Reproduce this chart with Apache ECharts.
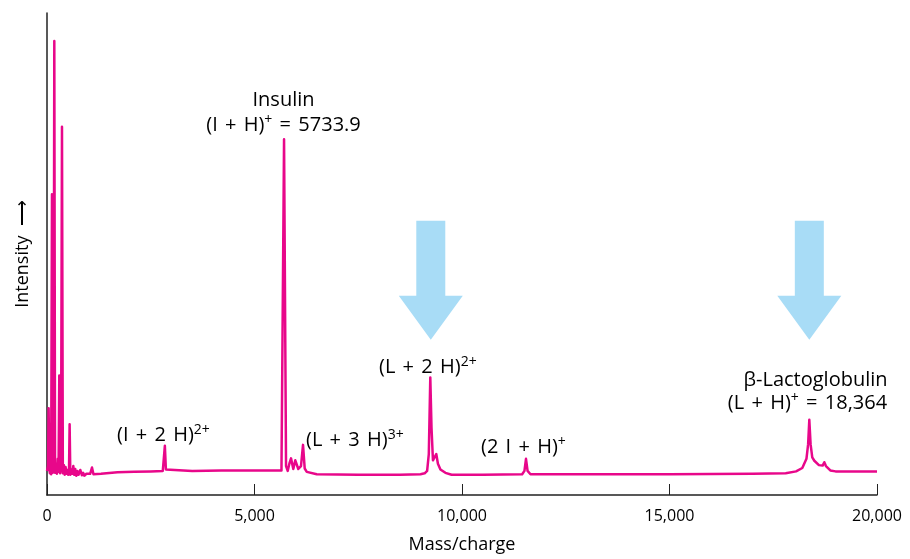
<!DOCTYPE html>
<html>
<head>
<meta charset="utf-8">
<script src="https://cdn.jsdelivr.net/npm/echarts@6/dist/echarts.min.js"></script>
<style>
html,body{margin:0;padding:0;background:#fff;}
#chart{width:910px;height:559px;}
</style>
</head>
<body>
<div id="chart"></div>
<script>
// ---- data ----
const xTicks = [0, 5000, 10000, 15000, 20000];
// mass/charge values of the trace
const massValues = [
  0, 25, 39, 55, 70, 85, 100, 120, 140, 158, 176, 194, 215, 240, 260, 278, 296, 316, 338, 361,
  382, 405, 425, 448, 468, 490, 510, 530, 545, 562, 590, 612, 634, 655, 680, 706, 730, 760, 802, 840,
  870, 899, 950, 995, 1040, 1084, 1120, 1300, 1700, 2100, 2500, 2790, 2815, 2840, 2865, 2900, 3500, 4200, 5000, 5650,
  5680, 5712, 5760, 5800, 5840, 5880, 5935, 5983, 6055, 6120, 6169, 6210, 6260, 6500, 7500, 8500, 9000, 9100, 9160, 9200,
  9236, 9265, 9300, 9340, 9380, 9420, 9480, 9600, 9750, 10500, 11450, 11505, 11542, 11580, 11650, 13000, 15000, 17000, 17800, 18050,
  18200, 18300, 18340, 18369, 18400, 18440, 18490, 18600, 18690, 18730, 18770, 18875, 19000, 20000
];
// relative intensity (0-100) at each mass value
const intensityValues = [
  5.0, 6.0, 18.0, 5.5, 4.5, 9.0, 4.3, 62.4, 4.6, 5.5, 94.2, 4.6, 6.5, 4.4, 7.5, 4.8, 24.8, 4.5, 5.8, 76.4,
  4.5, 6.2, 4.2, 5.8, 4.4, 5.2, 4.2, 5.0, 14.7, 4.2, 5.3, 4.4, 6.0, 4.2, 5.4, 4.0, 5.0, 4.2, 5.2, 4.1,
  4.6, 4.0, 4.4, 4.1, 4.4, 5.7, 4.3, 4.4, 4.7, 4.8, 4.9, 5.0, 5.4, 10.2, 5.3, 5.0, 5.0, 5.1, 5.1, 5.1,
  5.1, 73.8, 6.0, 5.0, 6.5, 7.6, 5.4, 7.2, 5.4, 6.0, 10.4, 5.5, 4.8, 4.3, 4.2, 4.2, 4.3, 4.5, 5.0, 8.5,
  24.4, 14.0, 7.2, 7.4, 8.5, 6.5, 5.3, 4.6, 4.2, 4.2, 4.3, 5.0, 7.5, 5.0, 4.3, 4.3, 4.3, 4.4, 4.5, 4.9,
  5.6, 7.5, 10.5, 15.6, 10.5, 7.8, 7.1, 6.2, 6.1, 6.8, 6.0, 5.1, 4.9, 4.9
];
// highlight arrows: [mass, tip intensity, tail intensity]
const arrowMass = [9248, 18369];
const arrowTip = [32.2, 32.2];
const arrowTail = [56.9, 56.9];

const spectrum = massValues.map((m, i) => [m, intensityValues[i]]);
const arrows = arrowMass.map((m, i) => [m, arrowTip[i], arrowTail[i]]);

const FONT = "'Open Sans', 'Noto Sans', sans-serif";
const TXT = '#000000';
const rich = {
  sup: { fontSize: 14, fontFamily: FONT, fill: TXT, color: TXT, verticalAlign: 'top', lineHeight: 14 },
  w: { fontSize: 28, fontFamily: FONT, fill: TXT, color: TXT, lineHeight: 24 }
};
function fmt(s) {
  // widen the spaces around operators, like math typesetting
  return s.replace(/ /g, '{w| }');
}
function label(text, x, y, align) {
  return {
    type: 'text', x: x, y: y, z: 10,
    style: {
      text: text, fontSize: 20, fontFamily: FONT, fill: TXT,
      align: align || 'center', verticalAlign: 'middle', rich: rich, lineHeight: 24
    }
  };
}

const chart = echarts.init(document.getElementById('chart'));
chart.setOption({
  backgroundColor: '#ffffff',
  animation: false,
  grid: { left: 47, right: 33, top: 13, bottom: 62, containLabel: false },
  xAxis: {
    type: 'value', min: 0, max: 20000, interval: 5000,
    name: 'Mass/charge', nameLocation: 'middle', nameGap: 41,
    nameTextStyle: { fontSize: 18, fontFamily: FONT, color: TXT },
    axisLine: { show: true, lineStyle: { color: '#222', width: 1.5 } },
    axisTick: { show: true, inside: true, length: 11, lineStyle: { color: '#222', width: 1 } },
    axisLabel: {
      fontSize: 16, fontFamily: FONT, color: TXT, margin: 13,
      formatter: v => xTicks.includes(v) ? v.toLocaleString('en-US') : ''
    },
    splitLine: { show: false }
  },
  yAxis: {
    type: 'value', min: 0, max: 100,
    name: 'Intensity  \u27F6', nameLocation: 'middle', nameGap: 15, nameRotate: 90,
    nameTextStyle: { fontSize: 18, fontFamily: FONT, color: TXT },
    axisLine: { show: true, lineStyle: { color: '#222', width: 1.5 } },
    axisTick: { show: false }, axisLabel: { show: false }, splitLine: { show: false }
  },
  series: [
    {
      type: 'custom', z: 1,
      renderItem: function (params, api) {
        const tip = api.coord([api.value(0), api.value(1)]);
        const top = api.coord([api.value(0), api.value(2)]);
        const cx = tip[0];
        const headY = tip[1] - (tip[1] - top[1]) * 0.37;
        const sw = 14.5, hw = 32;
        return {
          type: 'polygon',
          shape: { points: [[cx - sw, top[1]], [cx + sw, top[1]], [cx + sw, headY], [cx + hw, headY], [cx, tip[1]], [cx - hw, headY], [cx - sw, headY]] },
          style: { fill: '#A8DCF6' }
        };
      },
      data: arrows
    },
    {
      type: 'line', z: 3, showSymbol: false, smooth: false,
      lineStyle: { color: '#E8078A', width: 2.5, join: 'round' },
      data: spectrum
    }
  ],
  graphic: [
    label('Insulin', 283.5, 100),
    label(fmt('(I + H){sup|+} = 5733.9'), 283.5, 125),
    label(fmt('(I + 2 H)') + '{sup|2+}', 117, 435, 'left'),
    label(fmt('(L + 3 H)') + '{sup|3+}', 306, 440, 'left'),
    label(fmt('(L + 2 H)') + '{sup|2+}', 379, 367, 'left'),
    label(fmt('(2 I + H)') + '{sup|+}', 481, 447, 'left'),
    label('\u03B2-Lactoglobulin', 815.5, 380),
    label(fmt('(L + H){sup|+} = 18,364'), 807.5, 403)
  ]
});
</script>
</body>
</html>
